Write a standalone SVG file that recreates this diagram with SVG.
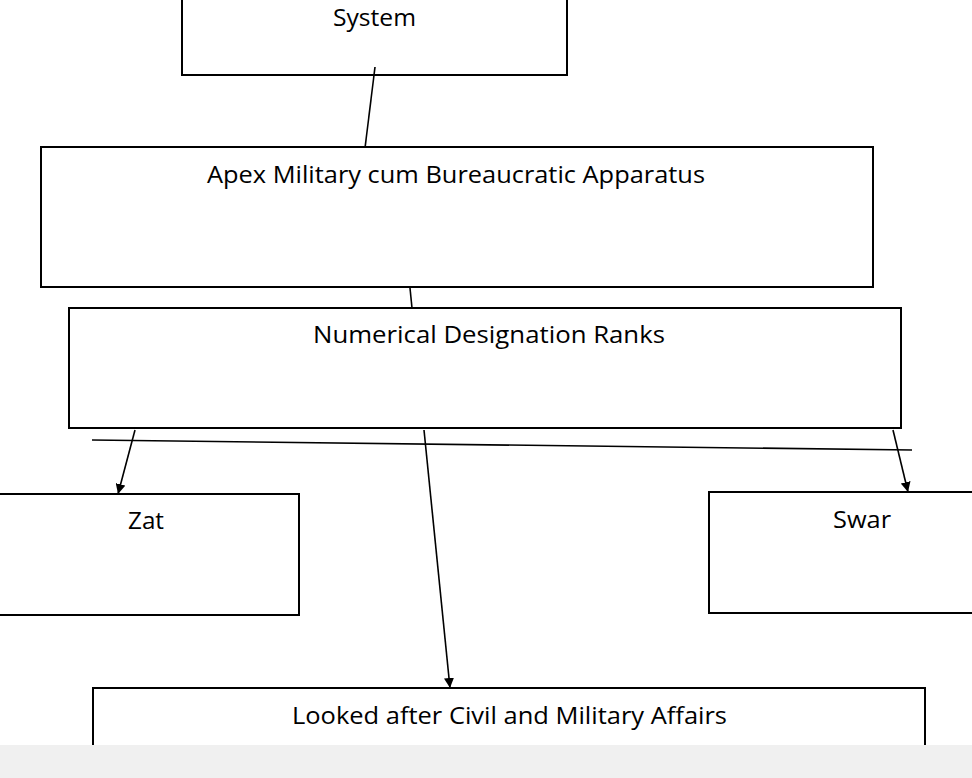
<svg xmlns="http://www.w3.org/2000/svg" width="972" height="778" viewBox="0 0 972 778">
  <defs>
    <marker id="arr" viewBox="0 0 10 10" refX="10" refY="5" markerWidth="10" markerHeight="10" markerUnits="userSpaceOnUse" orient="auto">
      <path d="M0,0 L10,5 L0,10 z" fill="#000"/>
    </marker>
    <style>
      .box { fill: #fff; stroke: #000; stroke-width: 2; }
      .lbl { font-family: "Open Sans", "Noto Sans", "Liberation Sans", sans-serif; font-size: 24px; fill: #000; }
      .con { stroke: #000; stroke-width: 1.6; fill: none; }
    </style>
  </defs>
  <rect x="0" y="0" width="972" height="778" fill="#fff"/>
  <g id="system">
    <rect class="box" x="182" y="-40" width="385" height="115"/>
    <text class="lbl" x="333" y="26" textLength="83" lengthAdjust="spacingAndGlyphs">System</text>
  </g>
  <g id="apex">
    <rect class="box" x="41" y="147" width="832" height="140"/>
    <text class="lbl" x="207" y="183" textLength="498" lengthAdjust="spacingAndGlyphs">Apex Military cum Bureaucratic Apparatus</text>
  </g>
  <g id="ranks">
    <rect class="box" x="69" y="308" width="832" height="120"/>
    <text class="lbl" x="313" y="343" textLength="352" lengthAdjust="spacingAndGlyphs">Numerical Designation Ranks</text>
  </g>
  <g id="zat">
    <rect class="box" x="-10" y="494" width="309" height="121"/>
    <text class="lbl" x="128" y="529" textLength="36" lengthAdjust="spacingAndGlyphs">Zat</text>
  </g>
  <g id="swar">
    <rect class="box" x="709" y="492" width="280" height="121"/>
    <text class="lbl" x="833" y="528" textLength="58" lengthAdjust="spacingAndGlyphs">Swar</text>
  </g>
  <g id="affairs">
    <rect class="box" x="93" y="688" width="832" height="100"/>
    <text class="lbl" x="292" y="724" textLength="435" lengthAdjust="spacingAndGlyphs">Looked after Civil and Military Affairs</text>
  </g>
  <g id="connectors">
    <line class="con" x1="375" y1="67" x2="365" y2="148"/>
    <line class="con" x1="410" y1="288" x2="412" y2="308"/>
    <line class="con" x1="92" y1="440" x2="912" y2="450"/>
    <line class="con" x1="135" y1="430" x2="118" y2="494" marker-end="url(#arr)"/>
    <line class="con" x1="893" y1="430" x2="908" y2="492" marker-end="url(#arr)"/>
    <line class="con" x1="424" y1="430" x2="450" y2="688" marker-end="url(#arr)"/>
  </g>
  <rect x="0" y="745" width="972" height="33" fill="#f0f0f0"/>
</svg>
